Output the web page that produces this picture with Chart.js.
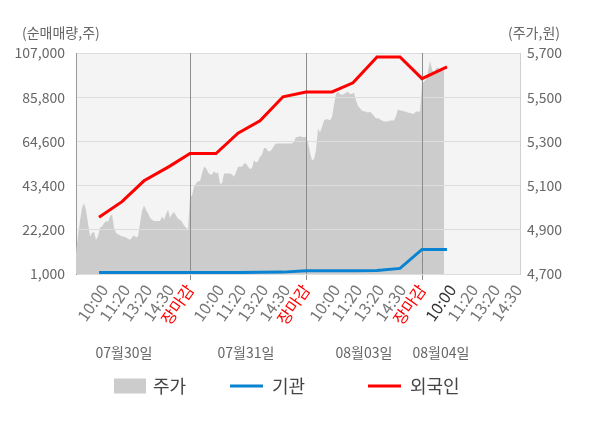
<!DOCTYPE html>
<html><head><meta charset="utf-8">
<script src="https://cdn.jsdelivr.net/npm/chart.js@4.4.0/dist/chart.umd.min.js"></script>
<style>html,body{margin:0;padding:0;background:#fff;}#wrap{position:relative;width:600px;height:428px;}</style>
</head><body><div id="wrap"><canvas id="c" width="600" height="428"></canvas></div>
<script>
// ---------- data ----------
const dayLabels = ['07월30일', '07월31일', '08월03일', '08월04일'];
const timeTickLabels = ['10:00', '11:20', '13:20', '14:30', '장마감'];
const leftTicks = [1000, 22200, 43400, 64600, 85800, 107000];
const rightTicks = [4700, 4900, 5100, 5300, 5500, 5700];
const seriesNames = ['주가', '기관', '외국인'];
const leftTitle = '(순매매량,주)';
const rightTitle = '(주가,원)';

// share price per time slot (one slot ≈ 1/58 of a session)
const priceDay1 = [4795,4875,4940,5000,5020,4990,4930,4870,4885,4890,4855,4870,4910,4915,4930,4940,4935,4960,4970,4910,4885,4880,4875,4870,4870,4865,4860,4855,4865,4875,4865,4870,4930,4985,5010,4990,4975,4955,4945,4940,4940,4940,4940,4960,4945,4970,4990,4955,4970,4980,4965,4950,4945,4935,4920,4910,4900];
const priceDay2 = [5050,5055,5095,5110,5120,5120,5155,5185,5180,5160,5150,5150,5165,5155,5160,5110,5110,5155,5155,5155,5155,5150,5140,5160,5185,5185,5185,5200,5200,5185,5175,5180,5215,5205,5210,5230,5240,5270,5270,5255,5255,5265,5280,5290,5290,5290,5290,5290,5290,5290,5290,5290,5300,5320,5320,5325,5320,5320];
const priceDay3 = [5320,5295,5250,5215,5220,5260,5360,5340,5365,5395,5400,5400,5395,5410,5465,5515,5525,5515,5510,5515,5520,5525,5515,5515,5520,5485,5460,5450,5440,5435,5435,5430,5435,5425,5415,5405,5405,5400,5395,5390,5390,5390,5395,5395,5395,5415,5445,5440,5440,5435,5435,5430,5430,5425,5425,5435,5435,5435];
const priceDay4 = [5560,5570,5580,5615,5665,5625,5610,5630,5635,5620,5620,5620];

// net buying (shares) at reporting slots
const investorSlots = [12.5, 24, 35, 47.5, 58, 71, 82, 93, 104.5, 116, 129, 139.5, 151.5, 163, 174, 186.5];
const foreignNet = [28200, 35700, 45700, 52500, 58800, 58800, 68500, 74500, 86000, 88300, 88300, 92700, 105100, 105100, 94700, 100300];
const institutionNet = [1700, 1700, 1700, 1700, 1700, 1700, 1700, 1800, 1900, 2600, 2600, 2600, 2700, 3700, 12800, 12800];

// ---------- layout constants ----------
const SLOTS_PER_DAY = 58;
const tickOffsets = [15, 26, 37, 48, 58];
const X_MIN = 1, X_MAX = 223;
const dayLabelSlots = [25, 86, 145, 183.5];
const FONT = "'Noto Sans CJK KR', 'Noto Sans', sans-serif";
Chart.defaults.font.family = FONT;

const allPrices = priceDay1.concat(priceDay2, priceDay3, priceDay4);
const priceData = allPrices.map((p, i) => ({x: i + 1, y: p}));
const foreignData = investorSlots.map((s, i) => ({x: s, y: foreignNet[i]}));
const instData = investorSlots.map((s, i) => ({x: s, y: institutionNet[i]}));

const xTickMeta = [];
for (let d = 0; d < dayLabels.length; d++) {
  for (let k = 0; k < timeTickLabels.length; k++) {
    const v = d * SLOTS_PER_DAY + tickOffsets[k];
    if (v <= X_MAX) xTickMeta.push({value: v, label: timeTickLabels[k], day: d, k: k});
  }
}
const labelFor = v => { const m = xTickMeta.find(t => t.value === v); return m ? m.label : ''; };

const bgPlugin = {
  id: 'bg',
  beforeDraw(chart) {
    const a = chart.chartArea, ctx = chart.ctx;
    ctx.save(); ctx.fillStyle = '#f4f4f4';
    ctx.fillRect(a.left, a.top, a.right - a.left, a.bottom - a.top);
    ctx.restore();
  }
};
const gridOver = {
  id: 'gridOver',
  afterDatasetDraw(chart, args) {
    if (args.index === 0) {
      chart.scales.y.drawGrid(chart.chartArea);
      chart.scales.x.drawGrid(chart.chartArea);
    }
  }
};
const textPlugin = {
  id: 'texts',
  afterDraw(chart) {
    const ctx = chart.ctx, xs = chart.scales.x;
    ctx.save();
    ctx.font = '14px ' + FONT; ctx.fillStyle = '#666'; ctx.textBaseline = 'middle';
    ctx.textAlign = 'left';
    ctx.fillText(leftTitle, 22, 33);
    ctx.fillText(rightTitle, 508, 33);
    ctx.textAlign = 'center';
    dayLabels.forEach((l, i) => ctx.fillText(l, xs.getPixelForValue(dayLabelSlots[i]), 353));
    // legend
    const ds = chart.data.datasets;
    const itemX = [114, 230, 368];
    const cy = 386;
    ctx.font = '18px ' + FONT; ctx.textAlign = 'left';
    ds.forEach((d, i) => {
      const x = itemX[i];
      if (i === 0) { ctx.fillStyle = d.backgroundColor; ctx.fillRect(x, cy - 7.5, 32, 15); }
      else { ctx.strokeStyle = d.borderColor; ctx.lineWidth = 3; ctx.beginPath(); ctx.moveTo(x, cy); ctx.lineTo(x + 33, cy); ctx.stroke(); }
      ctx.fillStyle = '#444';
      ctx.fillText(d.label, x + (i === 0 ? 39 : 42), cy);
    });
    ctx.restore();
  }
};

new Chart(document.getElementById('c'), {
  type: 'line',
  data: {
    datasets: [
      {label: seriesNames[0], data: priceData, yAxisID: 'yR', borderWidth: 0, borderColor: '#cccccc', backgroundColor: '#cccccc', fill: 'start', pointRadius: 0, tension: 0, order: 3},
      {label: seriesNames[1], data: instData, yAxisID: 'y', borderColor: '#0a84d2', backgroundColor: '#0a84d2', borderWidth: 3, pointRadius: 0, fill: false, tension: 0, order: 2},
      {label: seriesNames[2], data: foreignData, yAxisID: 'y', borderColor: '#ff0000', backgroundColor: '#ff0000', borderWidth: 3, pointRadius: 0, fill: false, tension: 0, order: 1}
    ]
  },
  options: {
    responsive: false, animation: false, events: [],
    layout: {padding: {top: 53, left: 0, right: 0, bottom: 0}},
    plugins: {legend: {display: false}, tooltip: {enabled: false}},
    scales: {
      x: {
        type: 'linear', min: X_MIN, max: X_MAX, position: 'bottom',
        afterBuildTicks: s => { s.ticks = xTickMeta.map(t => ({value: t.value})); },
        afterFit: s => { s.height = 154; },
        ticks: {
          autoSkip: false, minRotation: 55, maxRotation: 55, padding: 1,
          font: {size: 16},
          callback: v => labelFor(v),
          color: c => { const m = xTickMeta[c.index]; if (!m) return '#777'; if (m.k === 4) return '#ff0000'; if (m.day === 3 && m.k === 0) return '#333'; return '#777'; }
        },
        grid: {
          drawTicks: true, tickLength: 6, lineWidth: 1,
          color: c => { const m = xTickMeta[c.index]; return (m && m.k === 4) ? '#8c8c8c' : 'rgba(0,0,0,0)'; }
        },
        border: {display: true, color: '#999'}
      },
      y: {
        type: 'linear', position: 'left', min: 1000, max: 107000,
        afterBuildTicks: s => { s.ticks = leftTicks.map(v => ({value: v})); },
        afterFit: s => { s.width = 76; },
        ticks: {padding: 11, color: '#666', font: {size: 14}, callback: v => Number(v).toLocaleString('en-US')},
        grid: {color: '#dddddd', drawTicks: false},
        border: {display: true, color: '#999'}
      },
      yR: {
        type: 'linear', position: 'right', min: 4700, max: 5700,
        afterBuildTicks: s => { s.ticks = rightTicks.map(v => ({value: v})); },
        afterFit: s => { s.width = 80; },
        ticks: {padding: 7, color: '#666', font: {size: 14}, callback: v => Number(v).toLocaleString('en-US')},
        grid: {display: false, drawOnChartArea: false, drawTicks: false},
        border: {display: true, color: '#d0d0d0'}
      }
    }
  },
  plugins: [bgPlugin, gridOver, textPlugin]
});
</script>
</body></html>
